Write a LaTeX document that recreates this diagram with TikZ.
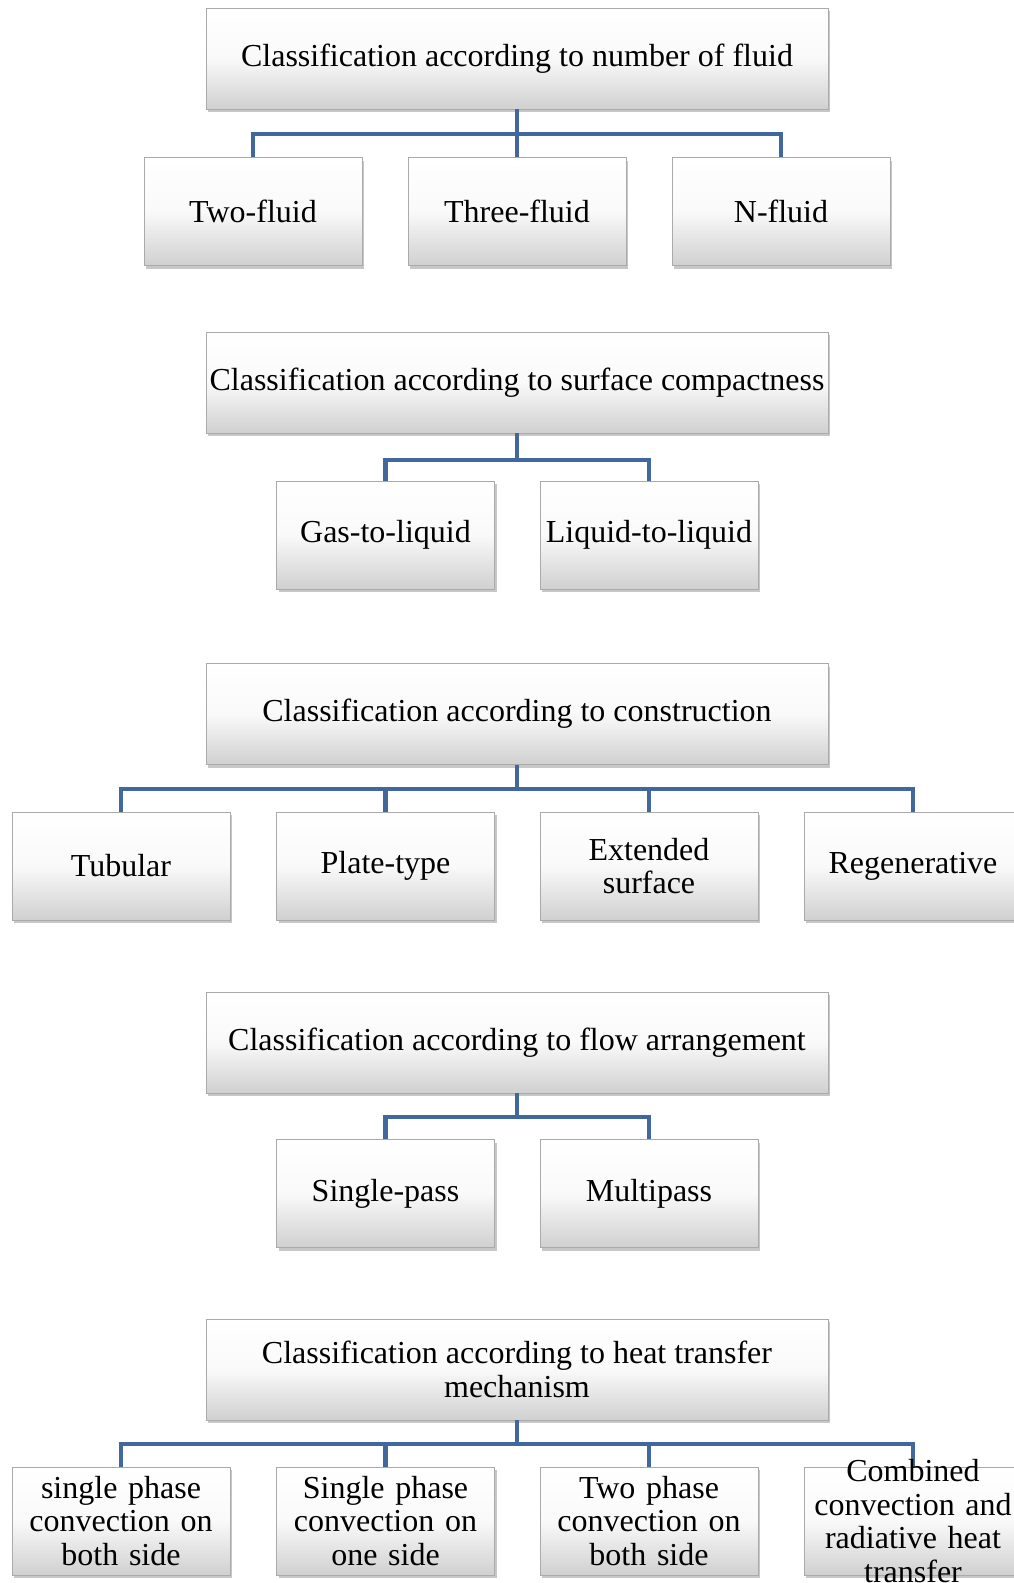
\documentclass[tikz,border=0pt]{standalone}
\usepackage{fontspec}
\setmainfont{Liberation Serif}
\usetikzlibrary{shadows}
\definecolor{connblue}{RGB}{64,104,156}
\definecolor{boxbot}{RGB}{208,208,208}
\definecolor{boxedge}{RGB}{170,170,170}
\begin{document}
\begin{tikzpicture}[x=1pt,y=-1pt,
  box/.style={draw=boxedge, line width=0.8pt, top color=white, bottom color=boxbot,
    middle color=white!88!boxbot,
    drop shadow={shadow xshift=2pt, shadow yshift=-3pt, opacity=0.55, fill=gray!80},
    align=center, inner sep=2pt,
    font=\fontsize{32}{33.5}\selectfont},
  head/.style={box, minimum width=622pt, minimum height=101pt},
  leaf/.style={box, minimum width=218pt, minimum height=108pt, text width=212pt},
  plaintext/.style={align=center, text width=212pt, inner sep=2pt,
    font=\fontsize{32}{33.5}\selectfont},
  conn/.style={draw=connblue, line width=4.5pt, line cap=butt}]
\useasboundingbox (0,0) rectangle (1014,1583);
\clip (0,0) rectangle (1014,1583);

% group 1
\node[head] (h1) at (517,58.5) {Classification according to number of fluid};
\node[leaf] (a1) at (253,211.5) {Two-fluid};
\node[leaf] (a2) at (517,211.5) {Three-fluid};
\node[leaf] (a3) at (781,211.5) {N-fluid};
\coordinate (bus1) at (517,134);

% group 2
\node[head] (h2) at (517,382.5) {Classification according to surface compactness};
\node[leaf] (b1) at (385.5,535) {Gas-to-liquid};
\node[leaf] (b2) at (649,535) {Liquid-to-liquid};
\coordinate (bus2) at (517,460);

% group 3
\node[head] (h3) at (517,714) {Classification according to construction};
\node[leaf] (c1) at (121,866) {Tubular};
\node[leaf] (c2) at (385.5,866) {Plate-type};
\node[leaf] (c3) at (649,866) {Extended\\surface};
\node[leaf] (c4) at (913,866) {Regenerative};
\coordinate (bus3) at (517,789);

% group 4
\node[head] (h4) at (517,1042.5) {Classification according to flow arrangement};
\node[leaf] (d1) at (385.5,1193.5) {Single-pass};
\node[leaf] (d2) at (649,1193.5) {Multipass};
\coordinate (bus4) at (517,1117);

% group 5
\node[head] (h5) at (517,1369.5) {Classification according to heat transfer\\mechanism};
\node[leaf] (e1) at (121,1521) {single phase\\convection on\\both side};
\node[leaf] (e2) at (385.5,1521) {Single phase\\convection on\\one side};
\node[leaf] (e3) at (649,1521) {Two phase\\convection on\\both side};
\node[leaf] (e4) at (913,1521) {};
\coordinate (bus5) at (517,1444);

% connectors
\foreach \c in {a1,a2,a3} \draw[conn] (h1.south) -- (bus1) -| (\c.north);
\foreach \c in {b1,b2} \draw[conn] (h2.south) -- (bus2) -| (\c.north);
\foreach \c in {c1,c2,c3,c4} \draw[conn] (h3.south) -- (bus3) -| (\c.north);
\foreach \c in {d1,d2} \draw[conn] (h4.south) -- (bus4) -| (\c.north);
\foreach \c in {e1,e2,e3,e4} \draw[conn] (h5.south) -- (bus5) -| (\c.north);

% overflowing text of the last box
\node[plaintext] (e4t) at (e4.center) {Combined\\convection and\\radiative heat\\transfer};
\end{tikzpicture}
\end{document}
